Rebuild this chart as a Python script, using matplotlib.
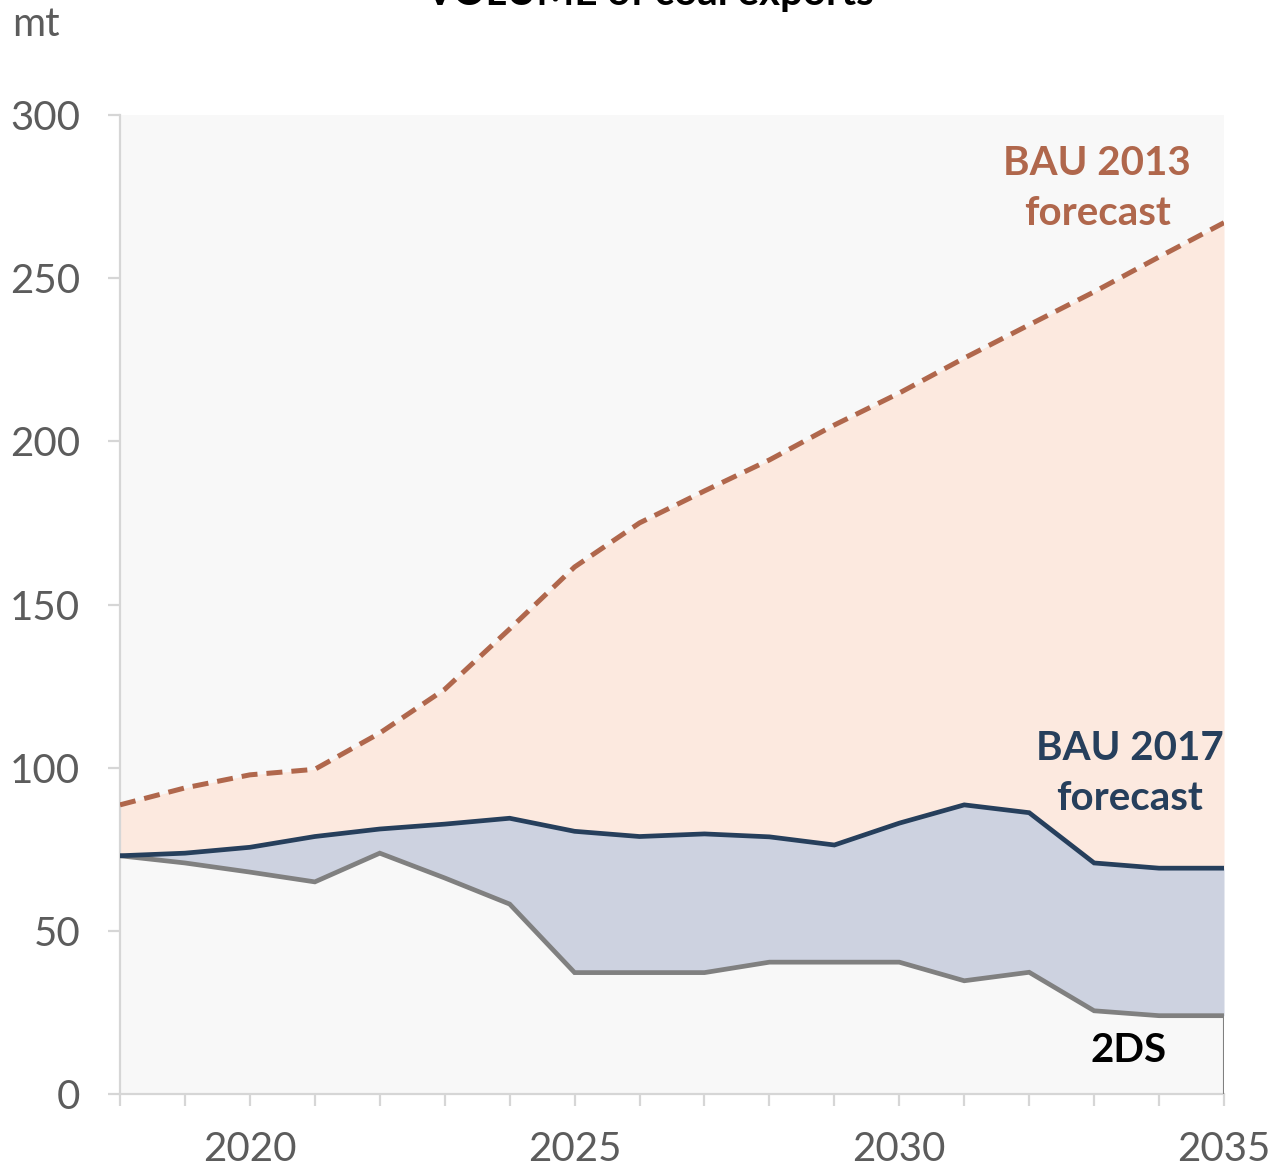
import matplotlib
matplotlib.use("Agg")
import matplotlib.pyplot as plt
from matplotlib.ticker import MultipleLocator, FixedLocator

years = list(range(2018, 2036))
bau2013 = [88.6, 93.8, 97.8, 99.5, 110.6, 124.0, 142.5, 161.5, 175.0, 184.8, 194.3,
           205.0, 214.8, 225.5, 235.7, 245.8, 256.5, 267.0]
bau2017 = [73.0, 73.8, 75.6, 78.9, 81.2, 82.7, 84.5, 80.5, 78.9, 79.7, 78.8,
           76.3, 83.0, 88.6, 86.2, 70.8, 69.2, 69.2]
ds2 = [73.0, 70.8, 68.0, 65.0, 73.8, 66.2, 58.2, 37.2, 37.2, 37.2, 40.4,
       40.4, 40.4, 34.7, 37.3, 25.5, 24.0, 24.0]
xlabels = [2020, 2025, 2030, 2035]
ylabels = [0, 50, 100, 150, 200, 250, 300]

c13 = "#b0674c"
c17 = "#263f5c"
cds = "#808080"
fill13 = "#fce9df"
fill17 = "#cdd2e0"
bg = "#f8f8f8"
axc = "#d6d6d6"
tickc = "#5c5c5c"
font = "Lato"

fig = plt.figure(figsize=(12.77, 11.73), dpi=100)
ax = fig.add_axes([120/1277, 79/1173, 1104/1277, 979/1173])
ax.set_facecolor(bg)

ax.fill_between(years, bau2017, bau2013, color=fill13, lw=0, zorder=1)
ax.fill_between(years, ds2, bau2017, color=fill17, lw=0, zorder=1)

ax.plot(years, bau2013, color=c13, lw=3.6, linestyle=(0, (3.2, 1.8)), zorder=3)
ax.plot(years, ds2, color=cds, lw=3.4, zorder=3, solid_joinstyle="miter")
ax.vlines(years[-1], 0, ds2[-1], color=cds, lw=1.5, zorder=3)
ax.plot(years, bau2017, color=c17, lw=3.4, zorder=4, solid_joinstyle="miter")

ax.set_xlim(2018, 2035)
ax.set_ylim(0, 300)
ax.xaxis.set_major_locator(FixedLocator(xlabels))
ax.xaxis.set_minor_locator(MultipleLocator(1))
ax.yaxis.set_major_locator(FixedLocator(ylabels))

for s in ["top", "right"]:
    ax.spines[s].set_visible(False)
for s in ["left", "bottom"]:
    ax.spines[s].set_color(axc)
    ax.spines[s].set_linewidth(1.6)

ax.tick_params(axis="both", which="both", color=axc, width=1.6, length=8.6,
               labelcolor=tickc, labelsize=29)
ax.tick_params(axis="y", pad=20)
ax.tick_params(axis="x", which="major", pad=18)
for lab in ax.get_xticklabels() + ax.get_yticklabels():
    lab.set_family(font)

ax.text(2033.05, 277.5, "BAU 2013\nforecast", color=c13, fontsize=29, fontweight="bold",
        family=font, ha="center", va="center", linespacing=1.45)
ax.text(2033.55, 98.2, "BAU 2017\nforecast", color=c17, fontsize=29, fontweight="bold",
        family=font, ha="center", va="center", linespacing=1.45)
ax.text(2033.53, 13.2, "2DS", color="black", fontsize=29, fontweight="bold",
        family=font, ha="center", va="center")

fig.text(12/1277, 1 - 25/1173, "mt", color=tickc, fontsize=29, family=font,
         ha="left", va="center")
fig.text(650/1277, 1 + 6/1173, "VOLUME of coal exports", color="black", fontsize=29,
         fontweight="bold", family=font, ha="center", va="center")

fig.savefig("out.png", dpi=100, facecolor="white")
